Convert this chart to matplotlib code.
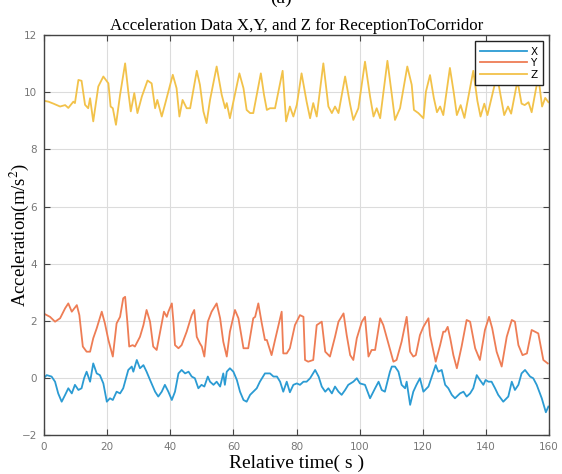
import numpy as np
import matplotlib
matplotlib.use("Agg")
import matplotlib.pyplot as plt

plt.rcParams['mathtext.fontset'] = 'stix'

# Z axis (time s, value m/s^2)
t_z = [0, 1.4, 3, 5.1, 6.7, 7.7, 9.3, 9.8, 10.9, 11.9, 13.0, 14.0, 14.6, 15.6, 17.2, 18.8,
       20.4, 21.1, 21.8, 22.8, 24.1, 25.7, 26.7, 27.5, 28.6, 29.6, 31.0, 32.8, 34.1, 35.2,
       35.9, 37.3, 38.3, 40.8, 42.0, 42.9, 43.9, 45.2, 46.3, 48.4, 49.4, 50.5, 51.5, 52.6,
       54.7, 56.3, 57.4, 57.9, 58.9, 60.0, 61.9, 63.2, 64.2, 65.3, 66.3, 68.7, 69.7, 70.6,
       71.6, 73.2, 75.6, 76.7, 77.9, 79.0, 80.1, 81.6, 83.2, 84.3, 85.3, 86.4, 88.5, 90.1,
       91.2, 92.2, 93.3, 95.4, 97.0, 98.0, 99.6, 101.7, 103.3, 104.4, 105.4, 106.5, 108.8,
       110.2, 111.2, 112.8, 115.1, 116.5, 117.2, 118.6, 120.2, 121.0, 122.3, 123.5, 124.5,
       125.5, 126.5, 128.6, 129.8, 130.8, 132.0, 133.2, 136.0, 137.3, 138.3, 139.5, 140.5,
       143.5, 144.8, 145.8, 147.0, 148.0, 150.0, 151.3, 152.3, 153.5, 154.5, 156.6, 157.8,
       158.8, 159.8]
z_vals = [9.70, 9.67, 9.60, 9.50, 9.55, 9.45, 9.67, 9.62, 10.43, 10.40, 9.56, 9.44, 9.79, 8.98,
          10.20, 10.55, 10.31, 9.50, 9.44, 8.86, 9.91, 11.01, 10.02, 9.33, 9.97, 9.27, 9.85,
          10.41, 10.31, 9.44, 9.73, 9.15, 9.56, 10.61, 10.14, 9.15, 9.73, 9.44, 9.44, 10.75,
          10.26, 9.33, 8.92, 9.73, 10.90, 9.91, 9.44, 9.62, 9.09, 9.67, 10.66, 10.14, 9.38,
          9.27, 9.27, 10.66, 9.91, 9.38, 9.44, 9.44, 10.75, 8.98, 9.50, 9.15, 9.56, 10.66,
          9.67, 9.09, 9.62, 9.15, 11.01, 9.50, 9.27, 9.50, 9.27, 10.55, 9.56, 9.03, 9.44,
          11.07, 9.85, 9.15, 9.44, 9.09, 11.10, 9.91, 9.03, 9.44, 10.90, 10.26, 9.38, 9.27,
          9.09, 10.02, 10.60, 9.80, 9.30, 9.50, 9.20, 10.85, 10.00, 9.20, 9.55, 9.10, 10.75,
          9.70, 9.15, 9.60, 9.20, 10.60, 9.80, 9.20, 9.50, 9.25, 10.40, 9.60, 9.55, 9.65,
          9.30, 10.55, 9.50, 9.80, 9.65]

# Y axis
t_y = [0, 0.85, 1.9, 3.5, 5.1, 6.7, 7.7, 8.8, 10.4, 11.2, 12.3, 13.5, 14.6, 15.6, 16.7, 18.3,
       19.3, 20.4, 21.8, 23.0, 24.1, 25.1, 25.7, 26.4, 27.0, 28.1, 28.8, 30.4, 31.5, 32.5,
       33.6, 34.6, 35.7, 36.8, 38.0, 38.9, 39.4, 40.5, 41.0, 41.5, 42.6, 43.6, 45.2, 46.8,
       47.6, 48.4, 49.4, 50.0, 50.8, 51.9, 53.1, 54.7, 55.8, 56.8, 57.9, 58.9, 60.5, 61.6,
       63.2, 64.7, 66.3, 66.9, 67.9, 69.0, 70.0, 70.6, 72.1, 73.2, 75.3, 75.8, 76.9, 77.9,
       79.5, 81.1, 82.2, 82.7, 83.7, 85.3, 86.4, 88.0, 89.1, 90.6, 92.2, 93.3, 94.9, 95.9,
       97.0, 98.0, 99.1, 100.7, 101.7, 102.8, 103.8, 104.9, 106.5, 107.5, 109.1, 110.7,
       111.7, 113.3, 114.9, 116.0, 117.0, 117.8, 119.1, 120.2, 121.8, 122.3, 123.4, 124.1,
       125.5, 126.5, 127.1, 127.9, 128.7, 129.7, 130.8, 132.3, 133.9, 135.0, 136.6, 138.1,
       139.7, 141.0, 142.0, 143.4, 145.0, 146.6, 148.2, 149.2, 150.3, 151.6, 153.0, 154.5,
       156.6, 158.2, 159.6]
y_vals = [2.25, 2.20, 2.14, 1.97, 2.09, 2.44, 2.61, 2.32, 2.55, 2.20, 1.10, 0.92, 0.92, 1.39,
          1.74, 2.32, 1.91, 1.33, 0.75, 1.91, 2.14, 2.79, 2.84, 1.97, 1.10, 1.15, 1.10, 1.44,
          1.85, 2.38, 1.97, 1.10, 0.98, 1.62, 2.32, 2.14, 2.32, 2.61, 1.97, 1.15, 1.04, 1.15,
          1.62, 2.20, 2.38, 1.44, 1.21, 1.10, 0.75, 1.97, 2.32, 2.61, 2.09, 1.27, 0.75, 1.62,
          2.38, 2.09, 1.04, 1.04, 2.09, 2.14, 2.61, 1.91, 1.33, 1.33, 0.80, 1.33, 2.32, 0.86,
          0.86, 1.04, 1.85, 2.20, 2.14, 0.63, 0.57, 0.63, 1.85, 1.97, 0.92, 0.75, 1.44, 1.97,
          2.26, 1.50, 0.80, 0.63, 1.39, 1.97, 2.14, 0.75, 0.98, 0.98, 2.09, 1.85, 1.21, 0.57,
          0.63, 1.27, 2.14, 0.92, 0.75, 0.80, 1.50, 1.79, 2.09, 1.50, 0.92, 0.57, 1.15, 1.62,
          1.62, 1.79, 1.39, 0.80, 0.34, 1.10, 2.03, 1.97, 1.04, 0.63, 1.68, 2.14, 1.74, 0.92,
          0.40, 1.44, 2.03, 1.97, 1.15, 0.80, 0.86, 1.68, 1.56, 0.63, 0.51]

# X axis
t_x = [0, 0.85, 2.4, 3.5, 4.5, 5.6, 6.7, 7.7, 8.8, 9.8, 10.9, 11.9, 12.7, 13.5, 14.6, 15.6,
       16.7, 17.7, 18.8, 19.9, 20.9, 21.8, 23.0, 24.1, 25.1, 26.7, 27.8, 28.3, 29.4, 30.4,
       31.5, 32.5, 33.6, 35.2, 36.2, 37.3, 38.3, 39.4, 40.5, 41.5, 42.6, 43.6, 44.7, 45.8,
       46.8, 47.8, 48.9, 49.9, 50.8, 51.9, 52.6, 53.7, 54.7, 55.8, 56.8, 57.3, 57.9, 58.9,
       60.0, 61.1, 62.1, 63.2, 64.2, 65.3, 66.3, 67.4, 68.4, 70.0, 71.6, 72.7, 73.8, 74.8,
       75.8, 76.9, 77.9, 79.0, 80.1, 81.1, 82.2, 83.2, 84.3, 85.9, 87.0, 88.0, 89.1, 90.1,
       91.2, 92.2, 93.3, 94.3, 95.4, 96.4, 98.0, 99.1, 100.1, 101.7, 103.3, 104.9, 106.0,
       107.0, 108.0, 109.6, 110.2, 111.2, 112.3, 113.3, 114.4, 114.9, 116.0, 117.0, 118.0,
       119.1, 120.2, 121.8, 123.4, 124.1, 124.9, 126.0, 127.1, 128.1, 129.2, 130.2, 131.8,
       132.9, 133.9, 135.0, 136.0, 137.1, 138.1, 139.2, 139.9, 140.8, 141.8, 142.9, 143.9,
       145.5, 147.1, 148.2, 149.2, 150.3, 151.3, 152.4, 154.0, 155.0, 156.1, 157.7, 159.0,
       159.8]
x_vals = [0.0, 0.10, 0.05, -0.13, -0.54, -0.83, -0.59, -0.36, -0.54, -0.24, -0.42, -0.36,
          -0.01, 0.22, -0.13, 0.51, 0.16, 0.10, -0.19, -0.83, -0.71, -0.77, -0.48, -0.54,
          -0.36, 0.28, 0.40, 0.22, 0.63, 0.34, 0.45, 0.22, -0.07, -0.48, -0.65, -0.48, -0.24,
          -0.48, -0.77, -0.48, 0.16, 0.28, 0.16, 0.22, 0.05, -0.01, -0.36, -0.24, -0.30, 0.05,
          -0.13, -0.24, -0.13, -0.30, 0.16, -0.24, 0.22, 0.34, 0.22, -0.07, -0.48, -0.77,
          -0.83, -0.59, -0.48, -0.36, -0.13, 0.16, 0.16, 0.05, 0.05, -0.13, -0.48, -0.13,
          -0.50, -0.24, -0.19, -0.24, -0.13, -0.13, -0.01, 0.28, 0.05, -0.30, -0.48, -0.36,
          -0.54, -0.30, -0.48, -0.59, -0.42, -0.24, -0.13, -0.01, -0.19, -0.24, -0.71, -0.36,
          -0.13, -0.42, -0.48, 0.22, 0.40, 0.40, 0.22, -0.24, -0.36, -0.13, -0.94, -0.48,
          -0.24, -0.01, -0.48, -0.30, 0.22, 0.45, 0.22, 0.28, -0.24, -0.36, -0.59, -0.71,
          -0.54, -0.48, -0.65, -0.54, -0.36, 0.10, -0.07, -0.24, -0.07, -0.13, -0.13, -0.36,
          -0.59, -0.83, -0.65, -0.13, -0.42, -0.24, 0.16, 0.28, 0.05, -0.01, -0.24, -0.71,
          -1.20, -1.00]

x_ticks = list(range(0, 161, 20))
y_ticks = list(range(-2, 13, 2))

fig = plt.figure(figsize=(5.62, 4.74), dpi=100)
ax = fig.add_axes([0.0783, 0.082, 0.8986, 0.844])

ax.plot(t_x, x_vals, color='#2b9bd3', lw=1.3, label='X')
ax.plot(t_y, y_vals, color='#ee7d55', lw=1.3, label='Y')
ax.plot(t_z, z_vals, color='#f2c24a', lw=1.3, label='Z')

ax.set_xlim(0, 160)
ax.set_ylim(-2, 12)
ax.set_xticks(x_ticks)
ax.set_yticks(y_ticks)
ax.grid(True, color='#dcdcdc', lw=0.8)
ax.tick_params(direction='in', top=True, right=True, length=4, width=0.8,
               labelsize=7.5, labelcolor='#777777', color='#444444', pad=5)
for s in ax.spines.values():
    s.set_color('#444444')
    s.set_linewidth(1.0)

serif = ['Liberation Serif', 'DejaVu Serif']
ax.set_title('Acceleration Data X,Y, and Z for ReceptionToCorridor',
             family=serif, fontsize=12.2, pad=4)
ax.set_xlabel('Relative time( s )', family=serif, fontsize=14, labelpad=2)
ax.set_ylabel('Acceleration(m/s$^2$)', family=serif, fontsize=13.5)
ax.yaxis.set_label_coords(-0.026, 0.5)
fig.text(0.5, 1.004, '(a)', ha='center', va='center', family=serif, fontsize=14)

leg = ax.legend(loc='upper right', fontsize=7.5, handlelength=4.5, fancybox=False,
                framealpha=1, edgecolor='#222222', borderaxespad=0.6,
                handletextpad=0.3, labelspacing=0.15, borderpad=0.5)
leg.get_frame().set_linewidth(1.0)

fig.savefig('out.png', dpi=100)
